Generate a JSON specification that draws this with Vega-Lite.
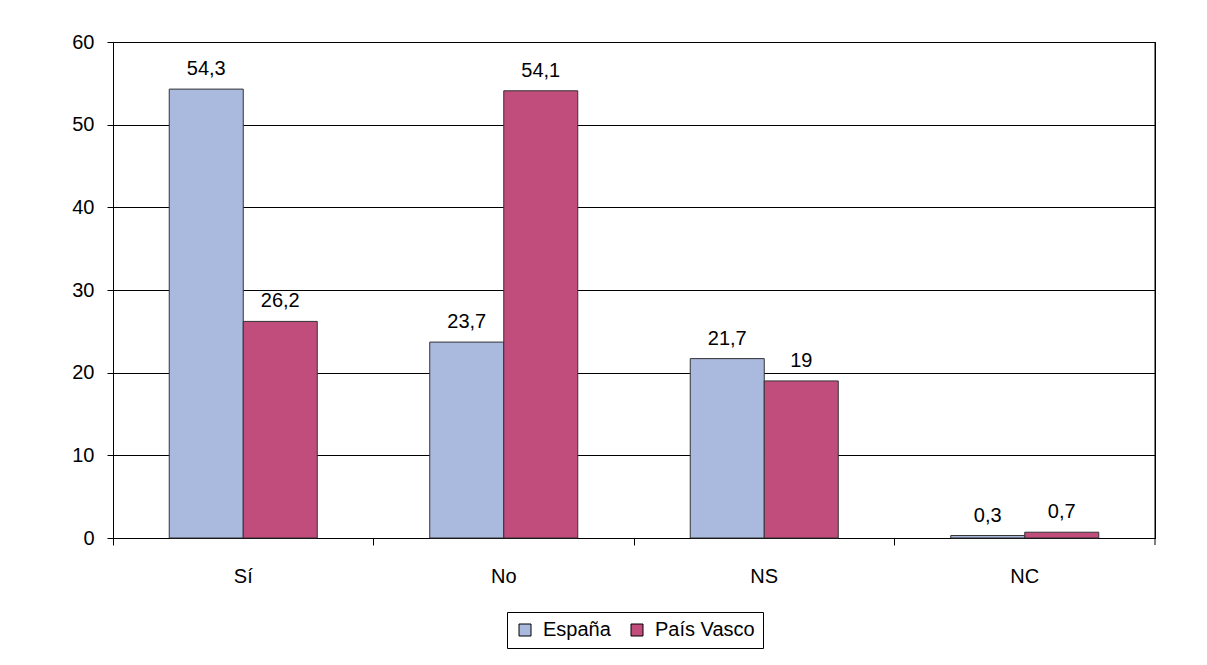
{
  "$schema": "https://vega.github.io/schema/vega-lite/v6.json",
  "width": 1042,
  "height": 496,
  "autosize": {"type": "none"},
  "padding": {"left": 113, "top": 42, "right": 52, "bottom": 127},
  "background": "#ffffff",
  "config": {
    "font": "Liberation Sans",
    "locale": {"number": {"decimal": ",", "thousands": ".", "grouping": [3], "currency": ["", " €"]}},
    "view": {"stroke": "#000000", "strokeWidth": 1},
    "axis": {
      "labelFont": "Liberation Sans",
      "labelFontSize": 20,
      "labelColor": "#000000",
      "domainColor": "#000000",
      "tickColor": "#000000",
      "gridColor": "#000000",
      "gridOpacity": 1,
      "domainWidth": 1,
      "tickWidth": 1
    }
  },
  "data": {
    "values": [
      {"respuesta": "Sí", "region": "España", "valor": 54.3},
      {"respuesta": "Sí", "region": "País Vasco", "valor": 26.2},
      {"respuesta": "No", "region": "España", "valor": 23.7},
      {"respuesta": "No", "region": "País Vasco", "valor": 54.1},
      {"respuesta": "NS", "region": "España", "valor": 21.7},
      {"respuesta": "NS", "region": "País Vasco", "valor": 19},
      {"respuesta": "NC", "region": "España", "valor": 0.3},
      {"respuesta": "NC", "region": "País Vasco", "valor": 0.7}
    ]
  },
  "layer": [
    {
      "mark": {"type": "bar", "stroke": "#333333", "strokeWidth": 1},
      "encoding": {
        "x": {
          "field": "respuesta", "type": "nominal",
          "sort": ["Sí", "No", "NS", "NC"],
          "scale": {"paddingInner": 0, "paddingOuter": 0},
          "axis": {"title": null, "labelAngle": 0, "bandPosition": 0, "tickSize": 7, "labelPadding": 21, "grid": false}
        },
        "xOffset": {"field": "region", "type": "nominal", "sort": ["España", "País Vasco"], "scale": {"paddingInner": 0, "paddingOuter": 0.76}},
        "y": {
          "field": "valor", "type": "quantitative",
          "scale": {"domain": [0, 60], "nice": false},
          "axis": {"title": null, "values": [0, 10, 20, 30, 40, 50, 60], "grid": true, "tickSize": 6, "labelPadding": 13}
        },
        "color": {
          "field": "region", "type": "nominal",
          "sort": ["España", "País Vasco"],
          "scale": {"range": ["#AAB9DE", "#C04D7C"]},
          "legend": {
            "orient": "none", "legendX": 394, "legendY": 570,
            "direction": "horizontal", "title": null,
            "strokeColor": "#000000", "fillColor": "#ffffff", "padding": 8,
            "symbolType": "square", "symbolSize": 144,
            "symbolStrokeColor": "#000000", "symbolStrokeWidth": 1,
            "labelFontSize": 20, "labelFont": "Liberation Sans", "labelColor": "#000000",
            "columnPadding": 16, "labelOffset": 8
          }
        }
      }
    },
    {
      "mark": {"type": "text", "baseline": "alphabetic", "dy": -14, "fontSize": 20, "font": "Liberation Sans", "color": "#000000"},
      "encoding": {
        "x": {"field": "respuesta", "type": "nominal", "sort": ["Sí", "No", "NS", "NC"]},
        "xOffset": {"field": "region", "type": "nominal", "sort": ["España", "País Vasco"]},
        "y": {"field": "valor", "type": "quantitative"},
        "text": {"field": "valor", "type": "quantitative", "format": ".1~f"}
      }
    },
    {
      "data": {"values": [{"respuesta": "NC"}]},
      "mark": {"type": "rule", "color": "#000000", "strokeWidth": 1},
      "encoding": {
        "x": {"field": "respuesta", "type": "nominal", "sort": ["Sí", "No", "NS", "NC"], "bandPosition": 1},
        "y": {"datum": 60},
        "y2": {"datum": -0.85}
      }
    }
  ]
}
